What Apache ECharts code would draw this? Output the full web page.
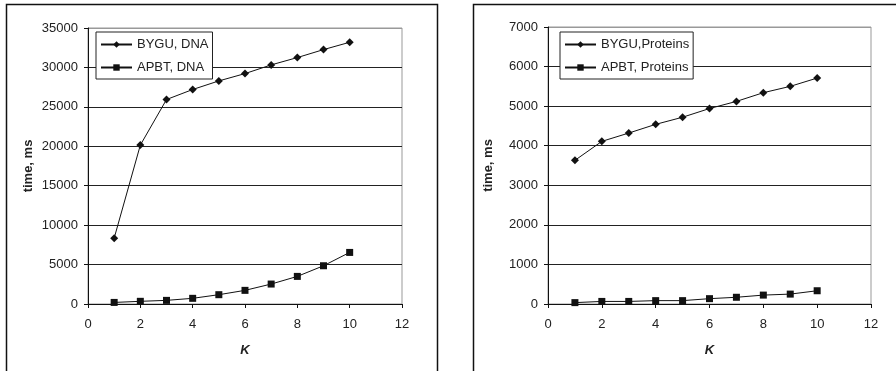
<!DOCTYPE html>
<html><head><meta charset="utf-8">
<script src="https://cdn.jsdelivr.net/npm/echarts@6/dist/echarts.min.js"></script>
<style>html,body{margin:0;padding:0;background:#fff}#c{width:896px;height:371px}</style>
</head><body><div id="c"></div>
<script>
const K = [1,2,3,4,5,6,7,8,9,10];
const byguDNA = [8350,20150,25930,27200,28290,29220,30320,31250,32260,33190];
const apbtDNA = [200,340,460,720,1180,1730,2530,3500,4850,6540];
const byguProt = [3630,4110,4320,4540,4720,4940,5120,5340,5500,5710];
const apbtProt = [35,65,65,85,85,135,170,225,250,335];
const xTicks = {min:0, max:12, interval:2};
const yDNA = {min:0, max:35000, interval:5000};
const yProt = {min:0, max:7000, interval:1000};
const names = ['BYGU, DNA','APBT, DNA','BYGU,Proteins','APBT, Proteins'];

const font = 'Liberation Sans, Arial, sans-serif';
const txt = '#222';
function pairs(v){ return K.map((k,i)=>[k,v[i]]); }
function xAxis(gi){
  return {type:'value', gridIndex:gi, min:xTicks.min, max:xTicks.max, interval:xTicks.interval,
    name:'K', nameLocation:'middle', nameGap:40,
    nameTextStyle:{fontFamily:font, fontSize:13, fontWeight:'bold', fontStyle:'italic', color:txt},
    axisLine:{lineStyle:{color:'#111', width:1}},
    axisTick:{show:true, length:4, lineStyle:{color:'#111'}},
    axisLabel:{fontFamily:font, fontSize:13, color:txt, margin:14, formatter:v=>String(v)},
    splitLine:{show:false}};
}
function yAxis(gi, r, n){
  const cols = []; for(let i=0;i<n;i++) cols.push('#222'); cols.push('#999');
  return {type:'value', gridIndex:gi, min:r.min, max:r.max, interval:r.interval,
    name:'time, ms', nameLocation:'middle', nameGap:53,
    nameTextStyle:{fontFamily:font, fontSize:13, fontWeight:'bold', color:txt},
    axisLine:{show:true, lineStyle:{color:'#111', width:1}},
    axisTick:{show:true, length:4, lineStyle:{color:'#111'}},
    axisLabel:{fontFamily:font, fontSize:13, color:txt, margin:10, formatter:v=>String(v)},
    splitLine:{show:true, lineStyle:{color:cols, width:1}}};
}
function line(name, data, gi, sym, size){
  return {name, type:'line', xAxisIndex:gi, yAxisIndex:gi, data:pairs(data),
    symbol:sym, symbolSize:size, showSymbol:true,
    lineStyle:{color:'#111', width:1}, itemStyle:{color:'#111'},
    emphasis:{disabled:true}, animation:false};
}
const legendBase = {orient:'vertical', itemWidth:31, itemHeight:8, itemGap:10,
  padding:[6,4,5,4], borderColor:'#222', borderWidth:1, backgroundColor:'#fff',
  textStyle:{fontFamily:font, fontSize:13, color:txt}, selectedMode:false};

const chart = echarts.init(document.getElementById('c'), null, {renderer:'canvas'});
chart.setOption({
  backgroundColor:'#fff',
  animation:false,
  graphic:[
    {type:'rect', shape:{x:6.5, y:4.5, width:431, height:400}, style:{fill:null, stroke:'#111', lineWidth:1.5}, z:-10},
    {type:'rect', shape:{x:473.5, y:4.5, width:440, height:400}, style:{fill:null, stroke:'#111', lineWidth:1.5}, z:-10}
  ],
  grid:[
    {left:88, right:494, top:28, bottom:67, show:true, borderColor:'#999', borderWidth:1, backgroundColor:'transparent'},
    {left:548, right:25, top:27, bottom:67, show:true, borderColor:'#999', borderWidth:1, backgroundColor:'transparent'}
  ],
  xAxis:[xAxis(0), xAxis(1)],
  yAxis:[yAxis(0, yDNA, 7), yAxis(1, yProt, 7)],
  legend:[
    Object.assign({}, legendBase, {left:96, top:32, data:[{name:names[0]},{name:names[1]}]}),
    Object.assign({}, legendBase, {left:560, top:32, data:[{name:names[2]},{name:names[3]}]})
  ],
  series:[
    line(names[0], byguDNA, 0, 'diamond', 8),
    line(names[1], apbtDNA, 0, 'rect', 7),
    line(names[2], byguProt, 1, 'diamond', 8),
    line(names[3], apbtProt, 1, 'rect', 7)
  ]
});
</script></body></html>
